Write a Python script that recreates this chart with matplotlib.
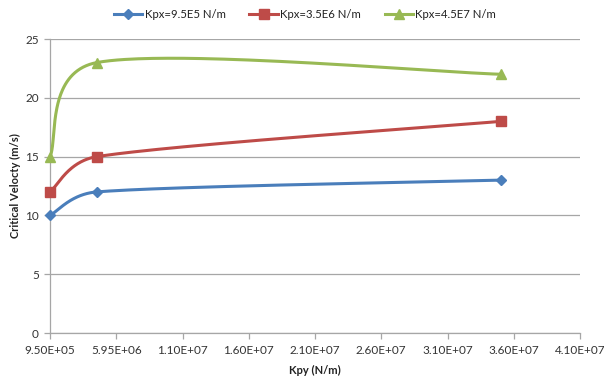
import numpy as np
import matplotlib
matplotlib.use("Agg")
import matplotlib.pyplot as plt

plt.rcParams['font.family'] = ['Lato', 'DejaVu Sans']

# Data
kpy = [9.5e5, 4.5e6, 3.5e7]
series_labels = ["Kpx=9.5E5 N/m", "Kpx=3.5E6 N/m", "Kpx=4.5E7 N/m"]
vel_kpx_95e5 = [10, 12, 13]
vel_kpx_35e6 = [12, 15, 18]
vel_kpx_45e7 = [15, 23, 22]
xtick_values = [9.5e5 + 5e6 * k for k in range(9)]
xtick_labels = ["9.50E+05", "5.95E+06", "1.10E+07", "1.60E+07", "2.10E+07",
                "2.60E+07", "3.10E+07", "3.60E+07", "4.10E+07"]
ytick_values = [0, 5, 10, 15, 20, 25]

colors = ["#4A7EBB", "#BE4B48", "#98B954"]
markers = ["D", "s", "^"]
msizes = [5.0, 6.5, 7.5]

W_PX, H_PX = 604, 383
ax_left, ax_right, ax_top, ax_bottom = 50, 580, 39, 333
xmin, xmax = xtick_values[0], xtick_values[-1]
ymin, ymax = 0, 25

fig = plt.figure(figsize=(W_PX / 100, H_PX / 100), dpi=100)
ax = fig.add_axes([ax_left / W_PX, 1 - ax_bottom / H_PX,
                   (ax_right - ax_left) / W_PX, (ax_bottom - ax_top) / H_PX])
aw, ah = ax_right - ax_left, ax_bottom - ax_top


def smooth_curve(xs, ys, n=80):
    """Bezier smoothing of a polyline, computed in screen space."""
    px = (np.asarray(xs, float) - xmin) / (xmax - xmin) * aw
    py = (np.asarray(ys, float) - ymin) / (ymax - ymin) * ah
    P = np.column_stack([px, py])
    m = len(P)
    out = [P[0]]
    for i in range(m - 1):
        p0 = P[i - 1] if i > 0 else P[i]
        p1, p2 = P[i], P[i + 1]
        p3 = P[i + 2] if i + 2 < m else P[i + 1]
        d12 = np.linalg.norm(p2 - p1)
        d02 = np.linalg.norm(p2 - p0)
        d13 = np.linalg.norm(p3 - p1)
        a1 = min(d02 / 6, d12 / 2)
        a2 = min(d13 / 6, d12 / 2)
        c1 = p1 + (p2 - p0) / d02 * a1 if d02 > 0 else p1
        c2 = p2 - (p3 - p1) / d13 * a2 if d13 > 0 else p2
        t = np.linspace(0, 1, n)[1:, None]
        seg = ((1 - t) ** 3 * p1 + 3 * (1 - t) ** 2 * t * c1
               + 3 * (1 - t) * t ** 2 * c2 + t ** 3 * p2)
        out.extend(seg)
    out = np.array(out)
    return (out[:, 0] / aw * (xmax - xmin) + xmin,
            out[:, 1] / ah * (ymax - ymin) + ymin)


series = [vel_kpx_95e5, vel_kpx_35e6, vel_kpx_45e7]
handles = []
for vals, lab, c, mk, ms in zip(series, series_labels, colors, markers, msizes):
    sx, sy = smooth_curve(kpy, vals)
    ax.plot(sx, sy, color=c, lw=2.2, solid_capstyle='round', zorder=3)
    ax.plot(kpy, vals, linestyle='none', marker=mk, markersize=ms,
            color=c, markeredgecolor=c, zorder=4, clip_on=False)
    h, = ax.plot([], [], color=c, lw=2.2, marker=mk, markersize=ms,
                 markeredgecolor=c, label=lab)
    handles.append(h)

ax.set_xlim(xmin, xmax)
ax.set_ylim(ymin, ymax)
ax.set_xticks(xtick_values)
ax.set_xticklabels(xtick_labels)
ax.set_yticks(ytick_values)
ax.grid(axis='y', color='#A6A6A6', lw=0.9)
ax.set_axisbelow(True)
for s in ['top', 'right']:
    ax.spines[s].set_visible(False)
for s in ['left', 'bottom']:
    ax.spines[s].set_color('#A6A6A6')
    ax.spines[s].set_linewidth(0.9)
ax.tick_params(axis='both', direction='out', length=4, width=0.9,
               color='#A6A6A6', labelsize=8.5, labelcolor='#333333')
ax.tick_params(axis='x', pad=5)
ax.tick_params(axis='y', pad=4)

ax.set_xlabel("Kpy (N/m)", fontsize=8, fontweight='bold', color='#222222',
              labelpad=6)
ax.set_ylabel("Critical Velocty (m/s)", fontsize=8, fontweight='bold',
              color='#222222', labelpad=3)

fig.legend(handles=handles, loc='center', bbox_to_anchor=(305 / W_PX, 1 - 14 / H_PX),
           ncol=3, frameon=False, fontsize=8.2, handlelength=2.5,
           columnspacing=2.1, handletextpad=0.2, labelcolor='#222222')

fig.savefig("out.png", dpi=100)
